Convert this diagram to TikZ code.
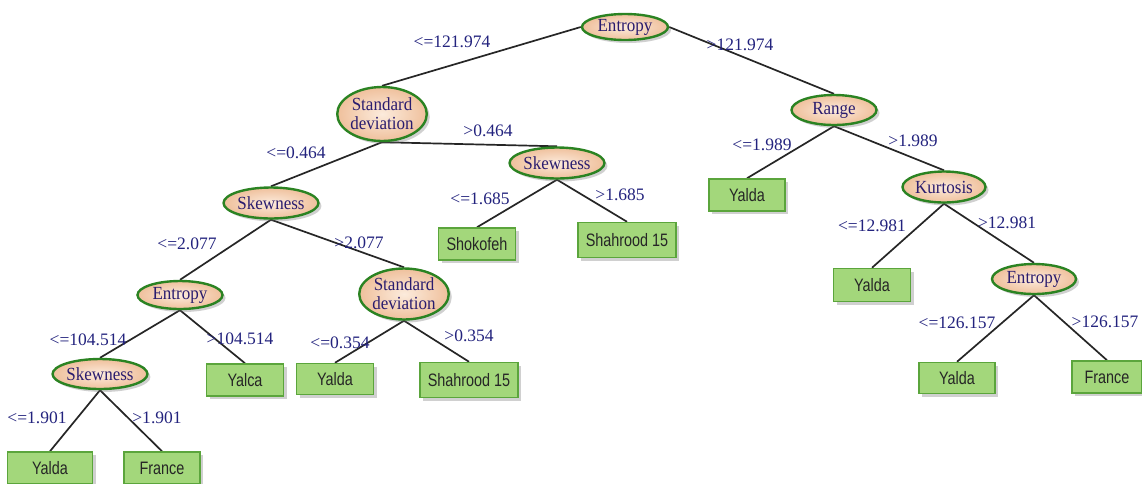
\documentclass[tikz,border=0pt]{standalone}
\usepackage{fontspec}
\setmainfont{Liberation Serif}
\newfontfamily\boxfont[FakeStretch=0.8]{Liberation Sans}
\newfontfamily\ellfont[FakeStretch=0.92]{Liberation Serif}
\usetikzlibrary{shapes.geometric,shadows,backgrounds}
\definecolor{ellgreen}{HTML}{2B8322}
\definecolor{ellin}{HTML}{FCEBDC}
\definecolor{ellout}{HTML}{EFC09C}
\definecolor{boxgreen}{HTML}{5BA53C}
\definecolor{boxfill}{HTML}{A3D77B}
\definecolor{navytext}{HTML}{2A1C6E}
\definecolor{labelblue}{HTML}{23237E}
\tikzset{
  dec/.style={ellipse, draw=ellgreen, line width=2.4pt, inner color=ellin, outer color=ellout,
    inner sep=0pt, text=navytext, align=center,
    font=\ellfont\fontsize{18.5}{19}\selectfont,
    drop shadow={shadow xshift=3pt, shadow yshift=-3pt, opacity=0.3, fill=black!60}},
  leaf/.style={rectangle, draw=boxgreen, line width=1.5pt, fill=boxfill, inner sep=0pt,
    text=black!85, font=\boxfont\fontsize{18}{20}\selectfont,
    drop shadow={shadow xshift=3pt, shadow yshift=-3pt, opacity=0.3, fill=black!60}},
  lbl/.style={text=labelblue, inner sep=0pt, font=\fontsize{17.5}{18}\selectfont},
  edgeline/.style={draw=black!85, line width=1.7pt}
}
\begin{document}
\begin{tikzpicture}[x=1pt,y=-1pt]
\useasboundingbox (0,0) rectangle (1142,483);
% decision nodes
\node[dec, minimum width=86pt, minimum height=26pt] (e0) at (625,27) {Entropy};
\node[dec, minimum width=86pt, minimum height=54pt] (sd1) at (382,114) {Standard\\deviation};
\node[dec, minimum width=85pt, minimum height=30pt] (rg) at (834,110) {Range};
\node[dec, minimum width=84pt, minimum height=31pt] (sk1) at (557,163) {Skewness};
\node[dec, minimum width=84pt, minimum height=31pt] (sk2) at (271,203) {Skewness};
\node[dec, minimum width=83pt, minimum height=31pt] (ku) at (944,187) {Kurtosis};
\node[dec, minimum width=85pt, minimum height=28pt] (e1) at (180,295) {Entropy};
\node[dec, minimum width=84pt, minimum height=51pt] (sd2) at (404,294) {Standard\\deviation};
\node[dec, minimum width=84pt, minimum height=30pt] (e2) at (1034,279) {Entropy};
\node[dec, minimum width=84pt, minimum height=30pt] (sk3) at (100,374) {Skewness};
% leaves
\node[leaf, minimum width=76pt, minimum height=32pt] (y1) at (747,195) {Yalda};
\node[leaf, minimum width=77pt, minimum height=32pt] (sh) at (477,244) {Shokofeh};
\node[leaf, minimum width=98pt, minimum height=35pt] (s15a) at (627,240) {Shahrood 15};
\node[leaf, minimum width=77pt, minimum height=33pt] (y2) at (872,285) {Yalda};
\node[leaf, minimum width=77pt, minimum height=32pt] (yc) at (245,380) {Yalca};
\node[leaf, minimum width=77pt, minimum height=31pt] (y3) at (335,379) {Yalda};
\node[leaf, minimum width=98pt, minimum height=35pt] (s15b) at (469,380) {Shahrood 15};
\node[leaf, minimum width=76pt, minimum height=31pt] (y4) at (957,378) {Yalda};
\node[leaf, minimum width=70pt, minimum height=32pt] (fr1) at (1107,377) {France};
\node[leaf, minimum width=85pt, minimum height=32pt] (y5) at (50,468) {Yalda};
\node[leaf, minimum width=76pt, minimum height=32pt] (fr2) at (162,468) {France};
% edges
\begin{scope}[on background layer]
\fill[white] (0,0) rectangle (1142,483);
\draw[edgeline] (e0.west) -- (sd1.north);
\draw[edgeline] (e0.east) -- (rg.north);
\draw[edgeline] (sd1.south) -- (sk2.north);
\draw[edgeline] (sd1.south) -- (sk1.north);
\draw[edgeline] (rg.south) -- (y1.north);
\draw[edgeline] (rg.south) -- (ku.north);
\draw[edgeline] (sk1.south) -- (sh.north);
\draw[edgeline] (sk1.south) -- (s15a.north);
\draw[edgeline] (sk2.south) -- (e1.north);
\draw[edgeline] (sk2.south) -- (sd2.north);
\draw[edgeline] (ku.south) -- (y2.north);
\draw[edgeline] (ku.south) -- (e2.north);
\draw[edgeline] (e1.south) -- (sk3.north);
\draw[edgeline] (e1.south) -- (yc.north);
\draw[edgeline] (sd2.south) -- (y3.north);
\draw[edgeline] (sd2.south) -- (s15b.north);
\draw[edgeline] (e2.south) -- (y4.north);
\draw[edgeline] (e2.south) -- (fr1.north);
\draw[edgeline] (sk3.south) -- (y5.north);
\draw[edgeline] (sk3.south) -- (fr2.north);
\end{scope}
% edge labels
\node[lbl] (l1) at (452,42) {<=121.974};
\node[lbl] (l2) at (740,45) {>121.974};
\node[lbl] (l3) at (296,153) {<=0.464};
\node[lbl] (l4) at (488,131) {>0.464};
\node[lbl] (l5) at (187,244) {<=2.077};
\node[lbl] (l6) at (359,243) {>2.077};
\node[lbl] (l7) at (480,199) {<=1.685};
\node[lbl] (l8) at (620,195) {>1.685};
\node[lbl] (l9) at (762,145) {<=1.989};
\node[lbl] (l10) at (913,141) {>1.989};
\node[lbl] (l11) at (872,226) {<=12.981};
\node[lbl] (l12) at (1007,223) {>12.981};
\node[lbl] (l13) at (88,340) {<=104.514};
\node[lbl] (l14) at (240,339) {>104.514};
\node[lbl] (l15) at (340,343) {<=0.354};
\node[lbl] (l16) at (469,336) {>0.354};
\node[lbl] (l17) at (37,418) {<=1.901};
\node[lbl] (l18) at (157,418) {>1.901};
\node[lbl] (l19) at (957,323) {<=126.157};
\node[lbl] (l20) at (1105,322) {>126.157};
\end{tikzpicture}
\end{document}
